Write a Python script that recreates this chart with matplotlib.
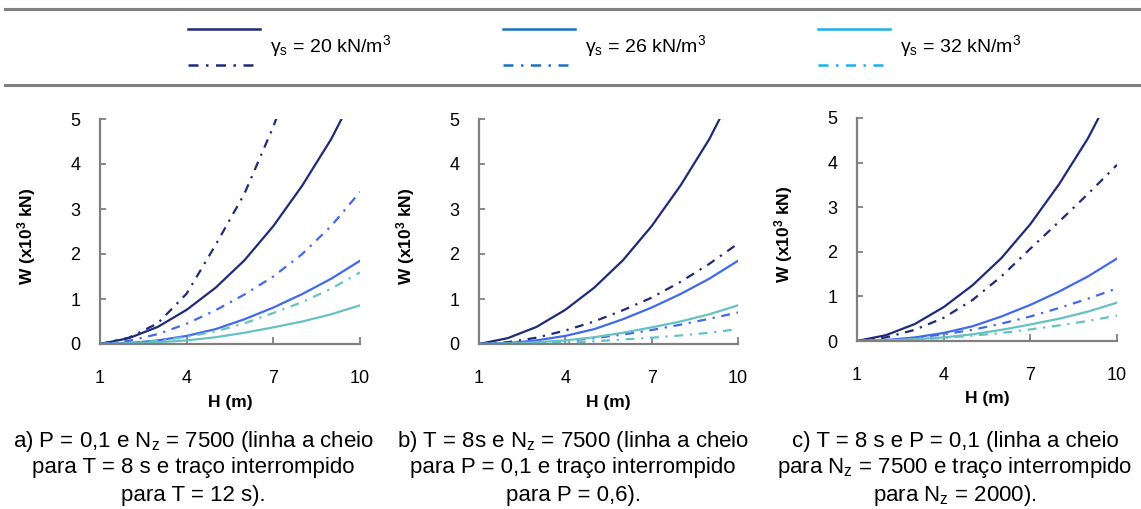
import matplotlib
matplotlib.use("Agg")
import matplotlib.pyplot as plt
from matplotlib.lines import Line2D

plt.rcParams['font.family'] = ['Liberation Sans', 'DejaVu Sans']
plt.rcParams['mathtext.fontset'] = 'custom'
plt.rcParams['mathtext.rm'] = 'Liberation Sans'
plt.rcParams['mathtext.it'] = 'Liberation Sans:italic'
plt.rcParams['mathtext.bf'] = 'Liberation Sans:bold'
plt.rcParams['mathtext.default'] = 'regular'

# H (m)
H = [1, 2, 3, 4, 5, 6, 7, 8, 9, 10]

# solid lines (T = 8 s, P = 0,1, Nz = 7500), same in every panel, W in 10^3 kN
w20_base = [0, 0.13, 0.38, 0.76, 1.25, 1.86, 2.62, 3.52, 4.55, 5.8]
w26_base = [0, 0.02, 0.08, 0.18, 0.33, 0.55, 0.81, 1.11, 1.45, 1.85]
w32_base = [0, 0.01, 0.04, 0.08, 0.15, 0.25, 0.37, 0.50, 0.66, 0.86]

# a) dash-dot: T = 12 s
H_a20 = [1, 2, 3, 4, 5, 6, 7, 8]
w20_a = [0, 0.14, 0.46, 1.12, 2.2, 3.34, 4.83, 6.6]
w26_a = [0, 0.07, 0.22, 0.45, 0.75, 1.10, 1.50, 2.00, 2.62, 3.38]
w32_a = [0, 0.02, 0.07, 0.16, 0.28, 0.46, 0.69, 0.93, 1.23, 1.59]

# b) dash-dot: P = 0,6
w20_b = [0, 0.04, 0.14, 0.30, 0.50, 0.75, 1.03, 1.38, 1.78, 2.23]
w26_b = [0, 0.01, 0.03, 0.07, 0.13, 0.21, 0.31, 0.43, 0.56, 0.70]
w32_b = [0, 0.005, 0.015, 0.03, 0.06, 0.10, 0.14, 0.19, 0.25, 0.33]

# c) dash-dot: Nz = 2000
w20_c = [0, 0.08, 0.25, 0.52, 0.92, 1.45, 2.07, 2.68, 3.30, 3.95]
w26_c = [0, 0.02, 0.07, 0.15, 0.25, 0.39, 0.55, 0.74, 0.95, 1.18]
w32_c = [0, 0.01, 0.03, 0.07, 0.12, 0.18, 0.26, 0.35, 0.45, 0.57]

legend_labels = [r'$\gamma_s$ = 20 kN/m$^3$', r'$\gamma_s$ = 26 kN/m$^3$', r'$\gamma_s$ = 32 kN/m$^3$']
captions = [
    ['a) P = 0,1 e N$_z$ = 7500 (linha a cheio', 'para T = 8 s e traço interrompido', 'para T = 12 s).'],
    ['b) T = 8s e N$_z$ = 7500 (linha a cheio', 'para P = 0,1 e traço interrompido', 'para P = 0,6).'],
    ['c) T = 8 s e P = 0,1 (linha a cheio', 'para N$_z$ = 7500 e traço interrompido', 'para N$_z$ = 2000).'],
]

c_line = ['#1f2a78', '#4169ee', '#66c2c2']
c_leg = ['#1f2a78', '#1a70c0', '#1ab0ea']
dashdot = (0, (4, 3, 1, 3))
grey = '#808080'

W, Hpx = 1141, 509
fig = plt.figure(figsize=(W / 100, Hpx / 100), dpi=100)


def fx(px):
    return px / W


def fy(py):
    return 1 - py / Hpx


# horizontal rules around the legend
for yy in (9, 85):
    fig.add_artist(Line2D([fx(5), 1], [fy(yy), fy(yy)], color=grey, lw=2.2))

# legend drawn by hand
leg_x = [188, 503, 818]
for i in range(3):
    x0 = leg_x[i]
    fig.add_artist(Line2D([fx(x0), fx(x0 + 72)], [fy(29), fy(29)], color=c_leg[i], lw=1.8))
    fig.add_artist(Line2D([fx(x0), fx(x0 + 72)], [fy(65), fy(65)], color=c_leg[i], lw=1.8,
                          linestyle=dashdot))
    fig.text(fx(x0 + 82), fy(46), legend_labels[i], fontsize=14, va='center', ha='left')

panels = [
    (100, 360, 119, 344, (H_a20, w20_a), w26_a, w32_a),
    (479, 738, 119, 344, (H, w20_b), w26_b, w32_b),
    (857, 1117, 118, 341, (H, w20_c), w26_c, w32_c),
]
cap_x = [193, 573, 955]
cap_y = [441, 468, 495]

for k, (l, r, t, b, d20, d26, d32) in enumerate(panels):
    ax = fig.add_axes([fx(l), fy(b), fx(r - l), (b - t) / Hpx])
    ax.plot(H, w20_base, color=c_line[0], lw=1.6)
    ax.plot(d20[0], d20[1], color=c_line[0], lw=1.6, linestyle=dashdot)
    ax.plot(H, w26_base, color=c_line[1], lw=1.6)
    ax.plot(H, d26, color=c_line[1], lw=1.6, linestyle=dashdot)
    ax.plot(H, w32_base, color=c_line[2], lw=1.6)
    ax.plot(H, d32, color=c_line[2], lw=1.6, linestyle=dashdot)

    ax.set_xlim(1, 10)
    ax.set_ylim(0, 5)
    ax.set_xticks([1, 4, 7, 10])
    ax.set_yticks([0, 1, 2, 3, 4, 5])
    for s in ('top', 'right'):
        ax.spines[s].set_visible(False)
    for s in ('left', 'bottom'):
        ax.spines[s].set_color(grey)
        ax.spines[s].set_linewidth(1.6)
    ax.tick_params(axis='x', direction='in', length=5, width=1.3, color=grey,
                   pad=19, labelsize=13)
    ax.tick_params(axis='y', direction='in', length=4, width=1.3, color=grey,
                   pad=14, labelsize=13)
    ax.set_xlabel('H (m)', fontsize=12.5, fontweight='bold')
    ax.xaxis.set_label_coords(0.5, -0.225)
    ax.set_ylabel(r'W (x10$^{\mathbf{3}}$ kN)', fontsize=12.5, fontweight='bold')
    ax.yaxis.set_label_coords(-0.24, 0.48)

    for j in range(3):
        fig.text(fx(cap_x[k]), fy(cap_y[j]), captions[k][j], fontsize=16,
                 ha='center', va='center')

fig.savefig('out.png', dpi=100)
